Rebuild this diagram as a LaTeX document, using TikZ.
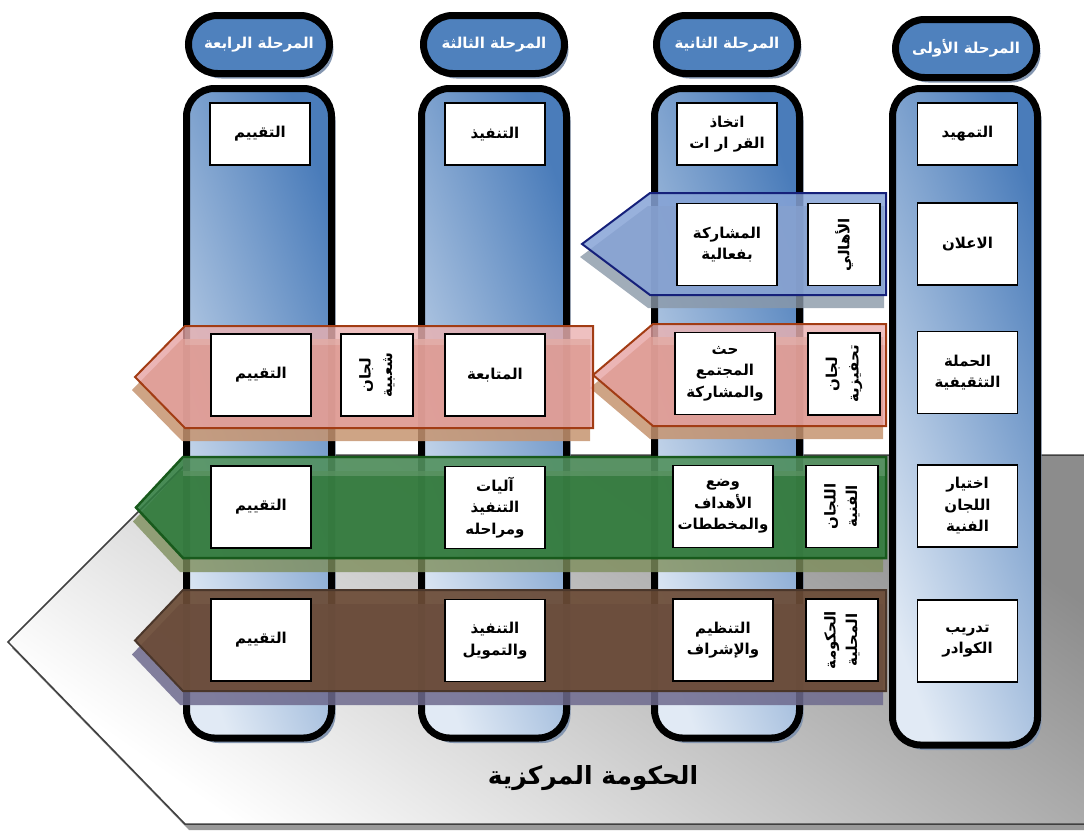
\documentclass[tikz,border=0pt]{standalone}
\usepackage{fontspec}
\newfontfamily\arfont[Script=Arabic]{DejaVu Sans}
\TeXXeTstate=1
\newcommand{\ar}[1]{\beginR #1\endR}
\newcommand{\boxfont}{\arfont\bfseries\fontsize{15}{21.5}\selectfont}
\definecolor{colblue}{HTML}{4A7CBA}
\definecolor{collight}{HTML}{E1EAF5}
\definecolor{pillblue}{HTML}{4F81BD}
\definecolor{colshadow}{HTML}{8496B0}
\definecolor{bluefill}{HTML}{86A3D6}
\definecolor{blueline}{HTML}{15207A}
\definecolor{blueshadow}{HTML}{8A98A8}
\definecolor{pinkfill}{HTML}{E6A0A0}
\definecolor{pinkline}{HTML}{A23C14}
\definecolor{pinkshadow}{HTML}{C69470}
\definecolor{greenfill}{HTML}{2F7B3E}
\definecolor{greenline}{HTML}{185A1C}
\definecolor{greenshadow}{HTML}{7E8E5C}
\definecolor{brownfill}{HTML}{6B4B36}
\definecolor{brownline}{HTML}{4A362A}
\definecolor{brownshadow}{HTML}{6E6A8E}
\definecolor{baseline}{HTML}{404040}
\newcommand{\bandpath}[5]{(#1,{(#4+#5)/2}) -- (#2,#4) -- (#3,#4) -- (#3,#5) -- (#2,#5) -- cycle}
\begin{document}
\begin{tikzpicture}[x=1pt,y=-1pt,
  column/.style={draw=black, line width=7, rounded corners=28, shading=axis,
    bottom color=collight, top color=colblue, shading angle=-70},
  colshad/.style={fill=colshadow, rounded corners=28},
  pill/.style={draw=black, line width=7, fill=pillblue, rounded corners=29,
    minimum width=141, minimum height=58, text=white,
    font=\arfont\bfseries\fontsize{15}{18}\selectfont},
  pillshad/.style={fill=colshadow, rounded corners=29, minimum width=141, minimum height=58},
  wbox/.style={draw=black, line width=1.5, fill=white, align=center, inner sep=1,
    font=\boxfont, minimum width=100, minimum height=82},
  topbox/.style={wbox, minimum height=62},
  nbox/.style={wbox, rotate=90, minimum width=82, minimum height=72, text width=70},
  bandshine/.style={fill=white, fill opacity=0.15},
]
\useasboundingbox (0,0) rectangle (1084,835);

% central government base
\fill[gray!80] [shift={(4,6)}] (8,642) -- (195,455) -- (1100,455) -- (1100,824) -- (185,824) -- cycle;
\shade[draw=baseline, line width=1.5, shading=axis, bottom color=white, top color=gray!90, shading angle=-35]
  (8,642) -- (195,455) -- (1100,455) -- (1100,824) -- (185,824) -- cycle;

% columns
\foreach \xl/\bot in {183/738, 418/738, 651/738, 889/745}{
  \fill[colshad] (\xl+7.5,92.5) rectangle (\xl+152.5,\bot+5);
  \path[column] (\xl+3.5,88.5) rectangle (\xl+148.5,\bot);
}
% header pills
\node[pillshad] (s4) at (263,49.5) {};
\node[pill] (h4) at (259,44.5) {\ar{المرحلة الرابعة}};
\node[pillshad] (s3) at (498,49.5) {};
\node[pill] (h3) at (494,44.5) {\ar{المرحلة الثالثة}};
\node[pillshad] (s2) at (731,49.5) {};
\node[pill] (h2) at (727,44.5) {\ar{المرحلة الثانية}};
\node[pillshad] (s1) at (970,53.5) {};
\node[pill] (h1) at (966,48.5) {\ar{المرحلة الأولى}};

% band shadows
\fill[blueshadow, fill opacity=0.8] [shift={(-2,13)}] \bandpath{582}{650}{886}{193}{295};
\fill[pinkshadow, fill opacity=0.85] [shift={(-3,13)}] \bandpath{593}{653}{886}{324}{426};
\fill[pinkshadow, fill opacity=0.85] [shift={(-3,13)}] \bandpath{135}{185}{593}{326}{428};
\fill[greenshadow, fill opacity=0.8] [shift={(-3,14)}] \bandpath{136}{183}{886}{457}{558};
\fill[brownshadow, fill opacity=0.85] [shift={(-3,14)}] \bandpath{135}{183}{886}{590}{691};

% bands
\path[fill=bluefill, fill opacity=0.85, draw=blueline, line width=2] \bandpath{582}{650}{886}{193}{295};
\path[fill=pinkfill, fill opacity=0.78, draw=pinkline, line width=2] \bandpath{593}{653}{886}{324}{426};
\path[fill=pinkfill, fill opacity=0.78, draw=pinkline, line width=2] \bandpath{135}{185}{593}{326}{428};
\path[fill=greenfill, fill opacity=0.88, draw=greenline, line width=2.5] \bandpath{136}{183}{886}{457}{558};
\path[fill=brownfill, fill opacity=0.92, draw=brownline, line width=2] \bandpath{135}{183}{886}{590}{691};
\fill[bandshine] (653,325) rectangle (885,345);
\fill[bandshine] (185,327) rectangle (592,345);
\fill[bandshine] (183,458) rectangle (885,476);

% column 4
\node[topbox] (a1) at (260,134) {\ar{التقييم}};
\node[wbox] (a3) at (261,375) {\ar{التقييم}};
\node[wbox] (a4) at (261,507) {\ar{التقييم}};
\node[wbox] (a5) at (261,640) {\ar{التقييم}};
\node[nbox] (an) at (377,375) {\ar{لجان}\\\ar{شعبية}};
% column 3
\node[topbox] (b1) at (495,134) {\ar{التنفيذ}};
\node[wbox] (b3) at (495,375) {\ar{المتابعة}};
\node[wbox] (b4) at (495,507.5) {\ar{آليات}\\\ar{التنفيذ}\\\ar{ومراحله}};
\node[wbox] (b5) at (495,640.5) {\ar{التنفيذ}\\\ar{والتمويل}};
% column 2
\node[topbox] (c1) at (727,134) {\ar{اتخاذ}\\\ar{القر ار ات}};
\node[wbox] (c2) at (727,244.5) {\ar{المشاركة}\\\ar{بفعالية}};
\node[wbox] (c3) at (725,373.5) {\ar{حث}\\\ar{المجتمع}\\\ar{والمشاركة}};
\node[wbox] (c4) at (723,506.5) {\ar{وضع}\\\ar{الأهداف}\\\ar{والمخططات}};
\node[wbox] (c5) at (723,640) {\ar{التنظيم}\\\ar{والإشراف}};
\node[nbox] (n2) at (844,244.5) {\ar{الأهالي}};
\node[nbox] (n3) at (844,374) {\ar{لجان}\\\ar{تحفيزية}};
\node[nbox] (n4) at (842,506.5) {\ar{اللجان}\\\ar{الفنية}};
\node[nbox] (n5) at (842,640) {\ar{الحكومة}\\\ar{المحلية}};
% column 1
\node[topbox] (d1) at (967.5,134) {\ar{التمهيد}};
\node[wbox] (d2) at (967.5,244) {\ar{الاعلان}};
\node[wbox] (d3) at (967.5,372.5) {\ar{الحملة}\\\ar{التثقيفية}};
\node[wbox] (d4) at (967.5,506) {\ar{اختيار}\\\ar{اللجان}\\\ar{الفنية}};
\node[wbox] (d5) at (967.5,641) {\ar{تدريب}\\\ar{الكوادر}};

% title
\node[font=\arfont\bfseries\fontsize{25}{30}\selectfont] (title) at (593,778) {\ar{الحكومة المركزية}};
\end{tikzpicture}
\end{document}
